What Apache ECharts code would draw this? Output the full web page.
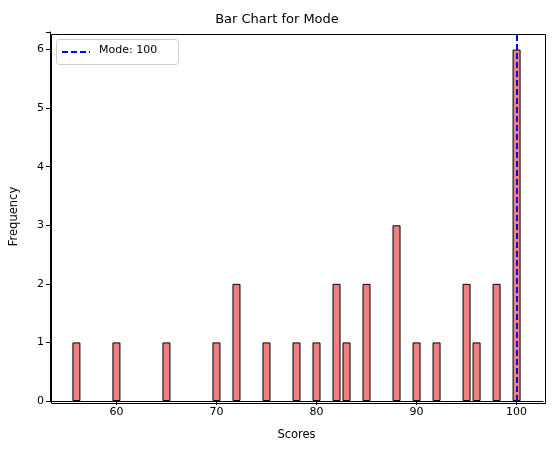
<!DOCTYPE html>
<html><head><meta charset="utf-8">
<script src="https://cdn.jsdelivr.net/npm/echarts@6/dist/echarts.min.js"></script>
<style>html,body{margin:0;padding:0;background:#fff}#c{width:554px;height:455px}</style>
</head><body><div id="c"></div>
<script>
const scores = [56,60,65,70,72,75,78,80,82,83,85,88,90,92,95,96,98,100];
const freqs  = [1,1,1,1,2,1,1,1,2,1,2,3,1,1,2,1,2,6];
const modeValue = 100;
const xTicks = [60,70,80,90,100];
const F = 'DejaVu Sans';
const chart = echarts.init(document.getElementById('c'));
chart.setOption({
  animation:false,
  title:{text:'Bar Chart for Mode',left:'center',top:8,textStyle:{fontFamily:F,fontSize:13,fontWeight:'normal',color:'#000'}},
  grid:{left:49,right:11,top:32,bottom:54},
  xAxis:{type:'value',min:53.36,max:102.64,name:'Scores',nameLocation:'middle',nameGap:28,
    nameTextStyle:{fontFamily:F,fontSize:11.5,color:'#000'},
    axisLine:{show:true,onZero:false,lineStyle:{color:'#000'}},
    axisTick:{show:true,customValues:xTicks,length:4,lineStyle:{color:'#000'}},
    axisLabel:{customValues:xTicks,fontFamily:F,fontSize:11,color:'#000',margin:6},
    splitLine:{show:false}},
  yAxis:{type:'value',min:0,max:6.3,interval:1,name:'Frequency',nameLocation:'middle',nameGap:30,
    nameTextStyle:{fontFamily:F,fontSize:11.5,color:'#000'},
    axisLine:{show:true,lineStyle:{color:'#000'}},
    axisTick:{show:true,length:4,lineStyle:{color:'#000'}},
    axisLabel:{fontFamily:F,fontSize:11,color:'#000',margin:6,formatter:v=>Number.isInteger(v)?v:''},
    splitLine:{show:false}},
  series:[{type:'bar',barWidth:8,barGap:'-100%',
    data:scores.map((s,i)=>[s,freqs[i]]),
    itemStyle:{color:'#f08080',borderColor:'#000',borderWidth:1},
    markLine:{symbol:'none',silent:true,label:{show:false},
      lineStyle:{color:'#0000ff',type:[6,3],width:2},data:[{xAxis:modeValue}]}}],
  graphic:[
    {type:'rect',left:49,top:32,silent:true,z:-1,shape:{width:494,height:369},style:{fill:'none',stroke:'#000',lineWidth:1}},
    {type:'rect',left:56,top:39,shape:{width:122,height:25,r:3},style:{fill:'#fff',stroke:'#ccc',lineWidth:1}},
    {type:'line',shape:{x1:62,y1:52,x2:90,y2:52},style:{stroke:'#0000ff',lineWidth:2,lineDash:[6,3]}},
    {type:'text',left:99,top:45,style:{text:'Mode: '+modeValue,fontFamily:F,fontSize:11,fill:'#000'}}
  ]
});
</script></body></html>
